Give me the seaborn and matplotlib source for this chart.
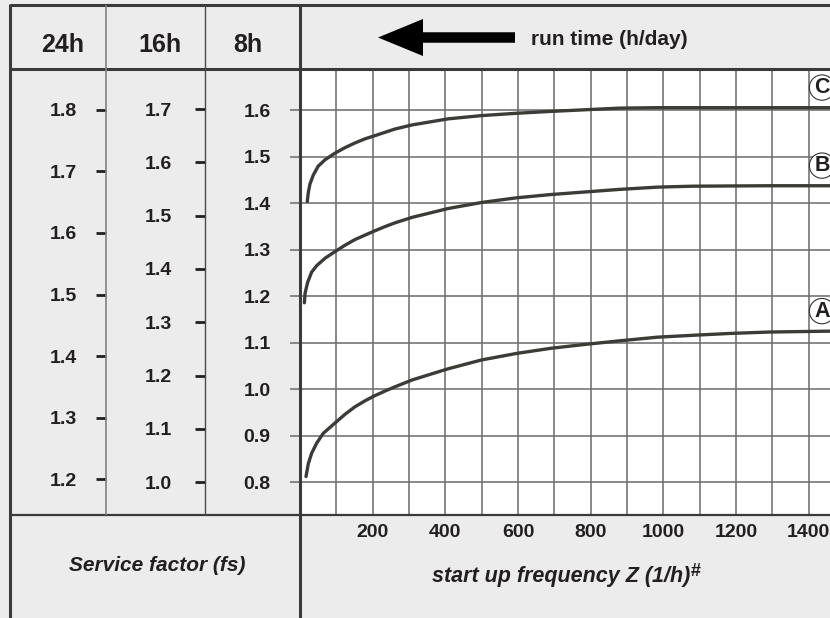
import matplotlib
matplotlib.use("Agg")
import matplotlib.pyplot as plt
from matplotlib.patches import FancyArrow
import numpy as np
import pandas as pd
import seaborn as sns

# start up frequency Z (1/h) against service factor, read on the 8h scale
curve_names = ["A", "B", "C"]
z_a = [16.5, 23, 32, 46, 64, 96, 124, 151, 179, 203, 234, 261, 309, 408, 500, 596, 690, 780,
       878, 984, 1080, 1183, 1289, 1459]
fs_a = [0.812, 0.840, 0.862, 0.884, 0.905, 0.927, 0.946, 0.962, 0.975, 0.985, 0.996, 1.005,
        1.020, 1.044, 1.063, 1.077, 1.088, 1.096, 1.104, 1.112, 1.116, 1.120, 1.123, 1.125]
z_b = [12, 14, 21, 32, 46, 69, 96, 124, 151, 203, 234, 261, 309, 408, 500, 596, 690, 877, 984,
       1080, 1289, 1459]
fs_b = [1.186, 1.207, 1.230, 1.252, 1.266, 1.282, 1.296, 1.310, 1.322, 1.340, 1.350, 1.358,
        1.370, 1.389, 1.402, 1.412, 1.419, 1.430, 1.435, 1.437, 1.438, 1.438]
z_c = [20, 23, 27.5, 36.6, 50, 69, 96, 124, 151, 179, 203, 234, 261, 309, 408, 500, 596, 690,
       878, 984, 1288, 1459]
fs_c = [1.404, 1.424, 1.442, 1.461, 1.480, 1.494, 1.508, 1.520, 1.530, 1.539, 1.545, 1.553,
        1.560, 1.569, 1.582, 1.589, 1.594, 1.598, 1.605, 1.606, 1.606, 1.606]

# run time columns and their service factor scales
run_times = ["24h", "16h", "8h"]
ticks_24h = [1.2, 1.3, 1.4, 1.5, 1.6, 1.7, 1.8]
ticks_16h = [1.0, 1.1, 1.2, 1.3, 1.4, 1.5, 1.6, 1.7]
ticks_8h = [0.8, 0.9, 1.0, 1.1, 1.2, 1.3, 1.4, 1.5, 1.6]
z_labels = [200, 400, 600, 800, 1000, 1200, 1400]
z_grid = [100, 300, 500, 700, 900, 1100, 1300]

curves = pd.concat([
    pd.DataFrame({"z": z, "fs": fs, "curve": name})
    for name, z, fs in zip(curve_names, [z_a, z_b, z_c], [fs_a, fs_b, fs_c])
])

GRAY = "#ececec"
TEXT = "#231f20"
LINE = "#3b3c38"
GRID = "#6a6a6a"

sns.set_theme(style="white")
plt.rcParams["font.family"] = ["Liberation Sans", "DejaVu Sans"]

W, H = 830, 618
TOP, BOT = 69, 515
fig = plt.figure(figsize=(W / 100, H / 100), dpi=100)
fig.patch.set_facecolor(GRAY)


def px_axes(x0, y0, x1, y1, **kw):
    return fig.add_axes([x0 / W, 1 - y1 / H, (x1 - x0) / W, (y1 - y0) / H], **kw)


# main chart
ax = px_axes(300, TOP, W, BOT)
ax.set_facecolor("white")
sns.lineplot(data=curves, x="z", y="fs", hue="curve", palette=[LINE] * 3,
             estimator=None, linewidth=2.4, legend=False, ax=ax)
ax.set_xlim(0, 1459)
ax.set_ylim(0.7292, 1.6893)
ax.set_xticks(z_labels)
ax.set_xticks(z_grid, minor=True)
ax.set_yticks(ticks_8h)
ax.grid(True, which="both", color=GRID, linewidth=1.1)
ax.tick_params(which="both", length=0)
ax.tick_params(axis="x", pad=6.5, labelsize=14, labelcolor=TEXT)
ax.tick_params(axis="y", labelleft=False)
plt.setp(ax.get_xticklabels(), fontweight="bold")
ax.set_xlabel("")
ax.set_ylabel("")
for s in ax.spines.values():
    s.set_visible(False)

label_z = 1437
for name, z, fs in zip(curve_names, [z_a, z_b, z_c], [fs_a, fs_b, fs_c]):
    ax.annotate(name, xy=(label_z, np.interp(label_z, z, fs)), xytext=(0, 14.5),
                textcoords="offset points", ha="center", va="center",
                fontsize=15.5, fontweight="bold", color=TEXT, annotation_clip=False,
                bbox=dict(boxstyle="circle,pad=0.1", fc="white", ec="#333333", lw=0.8))

# service factor columns
columns = [
    (10, 106, ticks_24h, (1.1422, 1.8661), 21.1, 2.0, TEXT),
    (106, 205, ticks_16h, (0.9384, 1.7751), 23.5, 2.0, TEXT),
    (205, 300, ticks_8h, (0.7292, 1.6893), 21.1, 1.1, GRID),
]
for x0, x1, ticks, lim, gap, tw, tc in columns:
    cax = px_axes(x0, TOP, x1, BOT)
    cax.patch.set_alpha(0)
    cax.set_ylim(*lim)
    cax.set_xticks([])
    cax.set_yticks(ticks)
    cax.set_yticklabels([f"{t:.1f}" for t in ticks])
    cax.yaxis.tick_right()
    cax.tick_params(axis="y", right=True, left=False, labelright=True, labelleft=False,
                    direction="in", length=7.2, width=tw, color=tc, pad=-gap,
                    labelsize=14, labelcolor=TEXT)
    plt.setp(cax.get_yticklabels(), ha="right", fontweight="bold")
    for s in cax.spines.values():
        s.set_visible(False)

# table frame, header and captions
bg = fig.add_axes([0, 0, 1, 1], zorder=5)
bg.set_xlim(0, W)
bg.set_ylim(H, 0)
bg.axis("off")

frame = [
    ((10, W), (5, 5), 2.2, "#3a3a3a"),
    ((10, W), (TOP, TOP), 2.2, "#3a3a3a"),
    ((10, W), (BOT, BOT), 1.6, "#3a3a3a"),
    ((10, 10), (4, H), 2.2, "#3a3a3a"),
    ((300, 300), (4, H), 2.2, "#3a3a3a"),
    ((106, 106), (5, BOT), 1.2, "#808080"),
    ((205, 205), (5, BOT), 1.0, "#4a4a4a"),
]
for xs, ys, lw, c in frame:
    bg.plot(xs, ys, color=c, lw=lw, solid_capstyle="butt")

for name, xc in zip(run_times, [63, 160, 248]):
    bg.text(xc, 52, name, ha="center", va="baseline", fontsize=18,
            fontweight="bold", color=TEXT)

bg.add_patch(FancyArrow(515, 37.5, -137, 0, width=10.5, head_width=37, head_length=45,
                        length_includes_head=True, fc="black", ec="none"))
bg.text(531, 45, "run time (h/day)", ha="left", va="baseline", fontsize=15,
        fontweight="bold", color=TEXT)

bg.text(157, 571, "Service factor (fs)", ha="center", va="baseline", fontsize=15,
        fontweight="bold", fontstyle="italic", color=TEXT)
t = bg.text(561, 582, "start up frequency Z (1/h)", ha="center", va="baseline",
            fontsize=15.5, fontweight="bold", fontstyle="italic", color=TEXT)
bg.annotate("#", xy=(1, 1), xycoords=t, xytext=(0.5, 2), textcoords="offset points",
            ha="left", va="top", fontsize=13, fontweight="bold", color=TEXT)

fig.savefig("out.png", dpi=100, facecolor=GRAY)
